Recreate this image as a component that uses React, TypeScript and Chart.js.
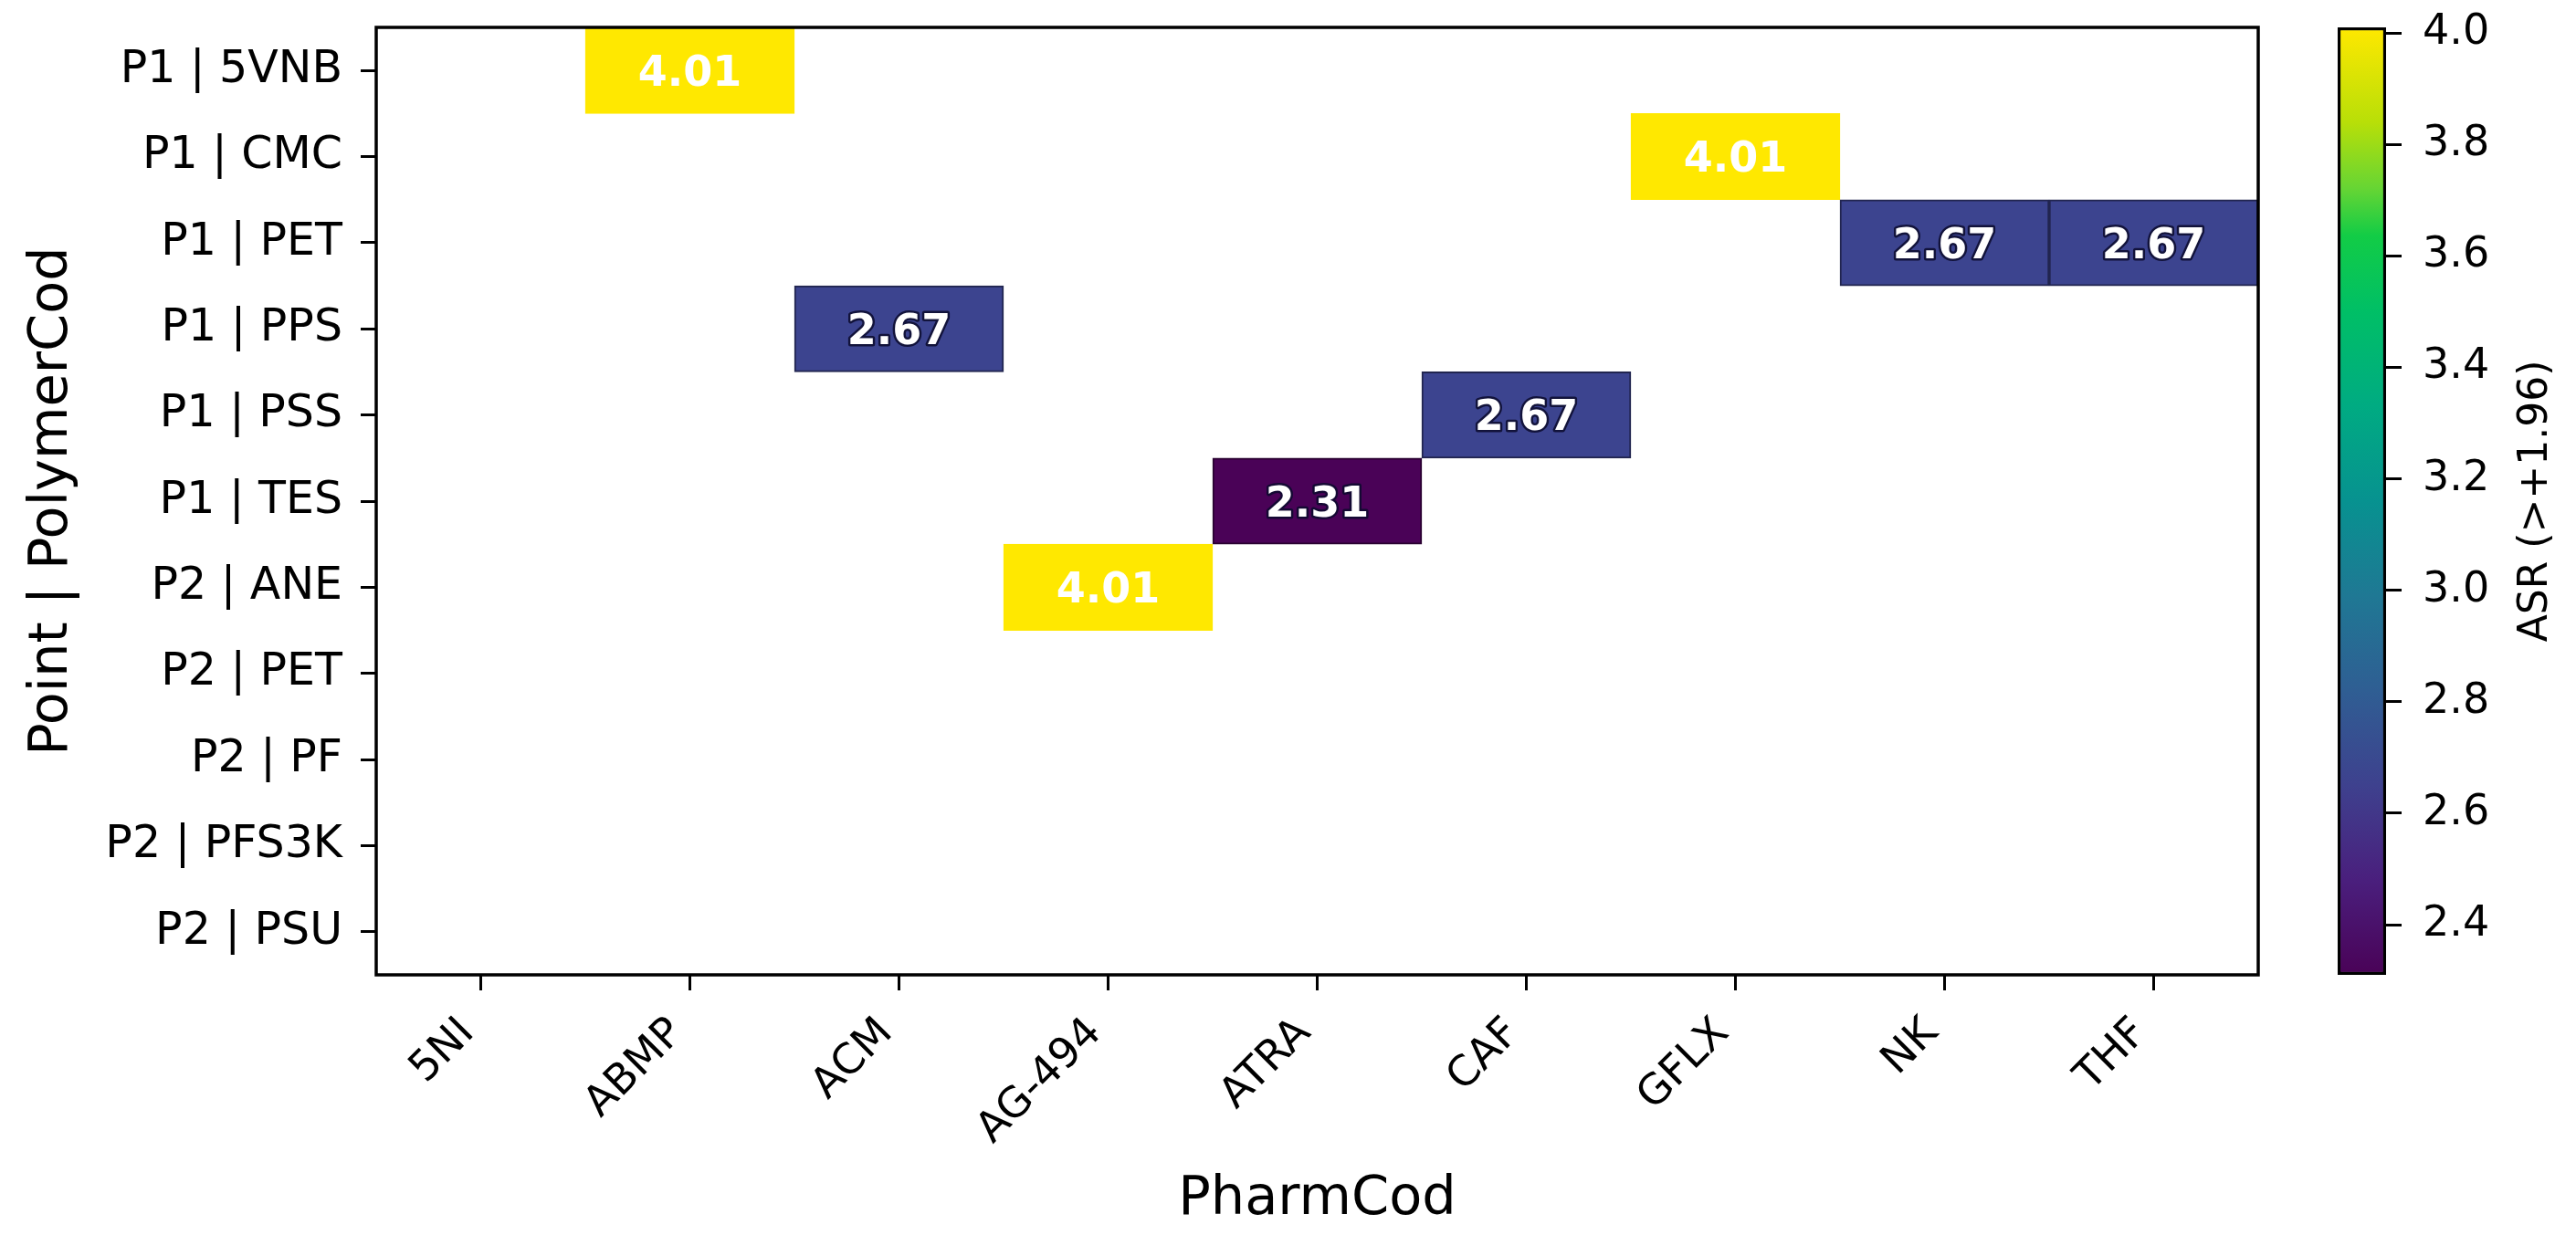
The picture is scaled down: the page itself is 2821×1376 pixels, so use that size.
import React, { useEffect, useRef } from 'react';
import { Chart, registerables } from 'chart.js';

Chart.register(...registerables);

// ---------------- data ----------------
const PHARM_CODES = ['5NI', 'ABMP', 'ACM', 'AG-494', 'ATRA', 'CAF', 'GFLX', 'NK', 'THF'];
const POINT_POLYMERS = [
  'P1 | 5VNB', 'P1 | CMC', 'P1 | PET', 'P1 | PPS', 'P1 | PSS', 'P1 | TES',
  'P2 | ANE', 'P2 | PET', 'P2 | PF', 'P2 | PFS3K', 'P2 | PSU',
];
// significant cells (ASR > +1.96)
const CELL_POINT_POLYMER = ['P1 | 5VNB', 'P1 | CMC', 'P1 | PET', 'P1 | PET', 'P1 | PPS', 'P1 | PSS', 'P1 | TES', 'P2 | ANE'];
const CELL_PHARM = ['ABMP', 'GFLX', 'NK', 'THF', 'ACM', 'CAF', 'ATRA', 'AG-494'];
const CELL_ASR = [4.01, 4.01, 2.67, 2.67, 2.67, 2.67, 2.31, 4.01];
const CBAR_TICKS = [2.4, 2.6, 2.8, 3.0, 3.2, 3.4, 3.6, 3.8, 4.0];

const X_TITLE = 'PharmCod';
const Y_TITLE = 'Point | PolymerCod';
const CBAR_TITLE = 'ASR (>+1.96)';

// ---------------- style ----------------
const FONT = 'DejaVu Sans';
const CMAP: [number, string][] = [
  [0.0, '#4a0257'],
  [0.1, '#4a1f7d'],
  [0.2, '#3e418e'],
  [0.3, '#2f5e93'],
  [0.4, '#1f7894'],
  [0.5, '#079290'],
  [0.6, '#00ab82'],
  [0.7, '#00bf66'],
  [0.78, '#12cc46'],
  [0.83, '#66d534'],
  [0.9, '#b8df08'],
  [1.0, '#ffe800'],
];

const CMIN = Math.min(...CELL_ASR);
const CMAX = Math.max(...CELL_ASR);

function hexToRgb(h: string): [number, number, number] {
  const n = parseInt(h.slice(1), 16);
  return [(n >> 16) & 255, (n >> 8) & 255, n & 255];
}
function cmapRgb(t: number): [number, number, number] {
  const tt = Math.max(0, Math.min(1, t));
  for (let i = 0; i < CMAP.length - 1; i++) {
    const [a, ca] = CMAP[i];
    const [b, cb] = CMAP[i + 1];
    if (tt >= a && tt <= b) {
      const f = (tt - a) / (b - a);
      const A = hexToRgb(ca);
      const B = hexToRgb(cb);
      return [0, 1, 2].map((k) => Math.round(A[k] + (B[k] - A[k]) * f)) as [number, number, number];
    }
  }
  return hexToRgb(CMAP[CMAP.length - 1][1]);
}
const rgbStr = (c: number[]) => `rgb(${c[0]},${c[1]},${c[2]})`;
const norm = (v: number) => (v - CMIN) / (CMAX - CMIN);
const isBright = (c: number[]) => (0.299 * c[0] + 0.587 * c[1] + 0.114 * c[2]) / 255 > 0.5;

const framePlugin = {
  id: 'frame',
  afterDatasetsDraw(chart: any) {
    const { ctx, chartArea: a } = chart;
    ctx.save();
    ctx.strokeStyle = '#000';
    ctx.lineWidth = 3.5;
    ctx.strokeRect(a.left, a.top, a.right - a.left, a.bottom - a.top);
    ctx.restore();
  },
};

const annotatePlugin = {
  id: 'annotate',
  afterDatasetsDraw(chart: any) {
    const { ctx } = chart;
    const meta = chart.getDatasetMeta(0);
    const size = 46;
    ctx.save();
    ctx.font = `bold ${size}px "${FONT}"`;
    ctx.textAlign = 'center';
    ctx.textBaseline = 'alphabetic';
    ctx.lineJoin = 'round';
    meta.data.forEach((bar: any, i: number) => {
      const { x, y, base } = bar.getProps(['x', 'y', 'base'], true);
      const cy = (y + base) / 2 + size * 0.364;
      const txt = CELL_ASR[i].toFixed(2);
      const col = cmapRgb(norm(CELL_ASR[i]));
      if (!isBright(col)) {
        ctx.strokeStyle = 'rgba(10,10,45,0.85)';
        ctx.lineWidth = 5;
        ctx.strokeText(txt, x, cy);
      }
      ctx.fillStyle = '#ffffff';
      ctx.fillText(txt, x, cy);
    });
    ctx.restore();
  },
};

const cbarTitlePlugin = {
  id: 'cbarTitle',
  afterDraw(chart: any) {
    const { ctx, chartArea: a } = chart;
    ctx.save();
    ctx.translate(238, (a.top + a.bottom) / 2);
    ctx.rotate(-Math.PI / 2);
    ctx.font = `44px "${FONT}"`;
    ctx.fillStyle = '#000';
    ctx.textAlign = 'center';
    ctx.textBaseline = 'middle';
    ctx.fillText(CBAR_TITLE, 0, 0);
    ctx.restore();
  },
};

export default function App() {
  const mainRef = useRef<HTMLCanvasElement>(null);
  const cbRef = useRef<HTMLCanvasElement>(null);

  useEffect(() => {
    document.body.style.margin = '0';
    Chart.defaults.font.family = FONT;
    Chart.defaults.color = '#000';

    const rowIdx = CELL_POINT_POLYMER.map((r) => POINT_POLYMERS.indexOf(r));
    const cellColors = CELL_ASR.map((v) => cmapRgb(norm(v)));

    const main = new Chart(mainRef.current as HTMLCanvasElement, {
      type: 'bar',
      data: {
        labels: PHARM_CODES,
        datasets: [
          {
            data: CELL_PHARM.map((p, i) => ({ x: p, y: [rowIdx[i] - 0.5, rowIdx[i] + 0.5] })) as any,
            backgroundColor: cellColors.map(rgbStr),
            borderColor: cellColors.map((c) => (isBright(c) ? rgbStr(c) : rgbStr(c.map((k) => Math.round(k * 0.55))))),
            borderWidth: 2,
            borderSkipped: false,
            barPercentage: 1,
            categoryPercentage: 1,
          },
        ],
      },
      options: {
        responsive: false,
        maintainAspectRatio: false,
        animation: false,
        devicePixelRatio: 1,
        layout: { padding: { top: 30, left: 0, right: 67, bottom: 0 } },
        plugins: { legend: { display: false }, tooltip: { enabled: false } },
        scales: {
          x: {
            type: 'category',
            offset: true,
            grid: { offset: false, drawOnChartArea: false, drawTicks: true, tickLength: 17, tickWidth: 3, tickColor: '#000' },
            border: { display: false },
            ticks: {
              minRotation: 45,
              maxRotation: 45,
              autoSkip: false,
              padding: 20,
              labelOffset: -14,
              color: '#000',
              font: { size: 46, family: FONT },
            },
            title: { display: true, text: X_TITLE, color: '#000', font: { size: 59, family: FONT }, padding: { top: 0, bottom: 26 } },
            afterFit: (s: any) => {
              s.height = 308;
              s.paddingLeft = 0;
              s.paddingRight = 0;
            },
          },
          y: {
            type: 'linear',
            reverse: true,
            min: -0.5,
            max: 10.5,
            bounds: 'data',
            afterBuildTicks: (s: any) => {
              s.ticks = POINT_POLYMERS.map((_, i) => ({ value: i }));
            },
            grid: { drawOnChartArea: false, drawTicks: true, tickLength: 17, tickWidth: 3, tickColor: '#000' },
            border: { display: false },
            ticks: {
              autoSkip: false,
              padding: 20,
              color: '#000',
              font: { size: 49, family: FONT },
              callback: (_v: any, i: number) => POINT_POLYMERS[i],
            },
            title: { display: true, text: Y_TITLE, color: '#000', font: { size: 59, family: FONT }, padding: { top: 22, bottom: 0 } },
            afterFit: (s: any) => {
              s.width = 412;
              s.paddingTop = 0;
              s.paddingBottom = 0;
            },
          },
        },
      },
      plugins: [framePlugin, annotatePlugin],
    } as any);

    const cbar = new Chart(cbRef.current as HTMLCanvasElement, {
      type: 'bar',
      data: {
        labels: ['ASR'],
        datasets: [
          {
            data: [[CMIN, CMAX]] as any,
            backgroundColor: (c: any) => {
              const area = c.chart.chartArea;
              if (!area) return 'rgba(0,0,0,0)';
              const g = c.chart.ctx.createLinearGradient(0, area.bottom, 0, area.top);
              CMAP.forEach(([s, col]) => g.addColorStop(s, col));
              return g;
            },
            borderColor: '#000',
            borderWidth: 3.5,
            borderSkipped: false,
            barPercentage: 1,
            categoryPercentage: 1,
          },
        ],
      },
      options: {
        responsive: false,
        maintainAspectRatio: false,
        animation: false,
        devicePixelRatio: 1,
        layout: { padding: { top: 30, left: 20, right: 0, bottom: 308 } },
        plugins: { legend: { display: false }, tooltip: { enabled: false } },
        scales: {
          x: { type: 'category', display: false, offset: true },
          y: {
            type: 'linear',
            position: 'right',
            min: CMIN,
            max: CMAX,
            bounds: 'data',
            afterBuildTicks: (s: any) => {
              s.ticks = CBAR_TICKS.map((v) => ({ value: v }));
            },
            grid: { drawOnChartArea: false, drawTicks: true, tickLength: 17, tickWidth: 3, tickColor: '#000' },
            border: { display: false },
            ticks: {
              padding: 23,
              color: '#000',
              font: { size: 46, family: FONT },
              callback: (v: any) => Number(v).toFixed(1),
            },
            afterFit: (s: any) => {
              s.width = 208;
              s.paddingTop = 0;
              s.paddingBottom = 0;
            },
          },
        },
      },
      plugins: [cbarTitlePlugin],
    } as any);

    return () => {
      main.destroy();
      cbar.destroy();
    };
  }, []);

  return (
    <div style={{ position: 'absolute', left: 0, top: 0, width: 2821, height: 1376, background: '#fff', overflow: 'hidden' }}>
      <canvas ref={mainRef} width={2540} height={1376} style={{ position: 'absolute', left: 0, top: 0, width: 2540, height: 1376 }} />
      <canvas ref={cbRef} width={281} height={1376} style={{ position: 'absolute', left: 2540, top: 0, width: 281, height: 1376 }} />
    </div>
  );
}
